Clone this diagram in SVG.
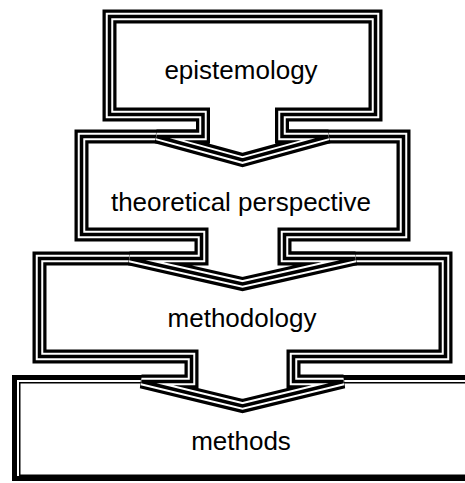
<svg xmlns="http://www.w3.org/2000/svg" xmlns:xlink="http://www.w3.org/1999/xlink" width="465" height="483" viewBox="0 0 465 483">
  <style>
    .o1 { fill: #fff; stroke: #000; stroke-width: 14; stroke-linejoin: miter; }
    .o2 { fill: none; stroke: #fff; stroke-width: 7.5; stroke-linejoin: miter; }
    .o3 { fill: none; stroke: #000; stroke-width: 3.5; stroke-linejoin: miter; }
    .lbl { font-family: "Liberation Sans", Arial, Helvetica, sans-serif; font-size: 26px; fill: #000; text-anchor: middle; }
  </style>
  <defs>
    <path id="p1" d="M 109.5,16.5 H 375.5 V 114.5 H 282 V 136.5 H 328.5 L 242.5,160 L 156.5,136.5 H 203 V 114.5 H 109.5 Z"/>
    <path id="p2" d="M 81.5,136.5 H 403.5 V 234.5 H 284.5 V 258.5 H 355.5 L 242.5,284 L 129.5,258.5 H 201.5 V 234.5 H 81.5 Z"/>
    <path id="p3" d="M 39.5,258.5 H 445.5 V 356.5 H 293.5 V 381.5 H 343.5 L 242.5,406 L 141.5,381.5 H 191.5 V 356.5 H 39.5 Z"/>
  </defs>
  <rect width="465" height="483" fill="#fff"/>

  <g id="methods">
    <rect x="14.5" y="377.5" width="462" height="101" fill="#fff" stroke="#000" stroke-width="5"/>
    <rect x="19.75" y="382.75" width="455" height="92.5" fill="none" stroke="#000" stroke-width="1.5"/>
    <text class="lbl" x="241" y="450">methods</text>
  </g>

  <g id="methodology">
    <use xlink:href="#p3" class="o1"/>
    <use xlink:href="#p3" class="o2"/>
    <use xlink:href="#p3" class="o3"/>
    <text class="lbl" x="242" y="327">methodology</text>
  </g>

  <g id="theoretical-perspective">
    <use xlink:href="#p2" class="o1"/>
    <use xlink:href="#p2" class="o2"/>
    <use xlink:href="#p2" class="o3"/>
    <text class="lbl" x="241" y="211">theoretical perspective</text>
  </g>

  <g id="epistemology">
    <use xlink:href="#p1" class="o1"/>
    <use xlink:href="#p1" class="o2"/>
    <use xlink:href="#p1" class="o3"/>
    <text class="lbl" x="241" y="79">epistemology</text>
  </g>
</svg>
